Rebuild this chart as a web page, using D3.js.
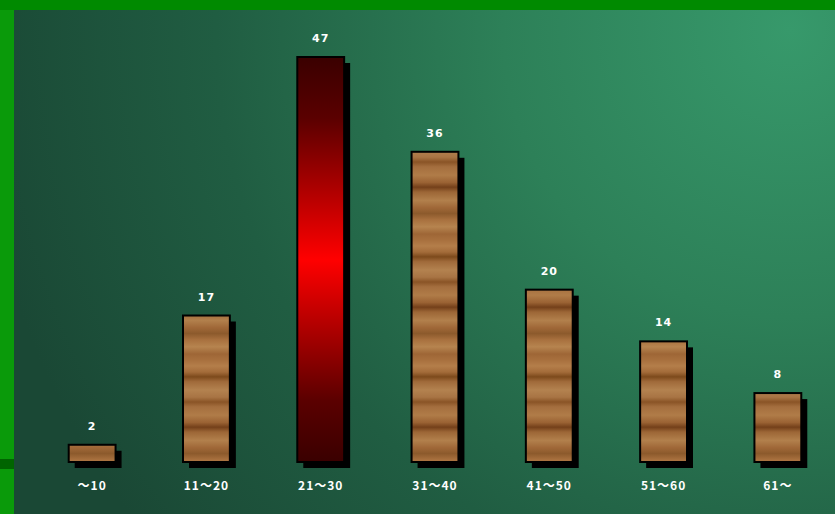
<!DOCTYPE html>
<html>
<head>
<meta charset="utf-8">
<script src="https://cdn.jsdelivr.net/npm/d3@7"></script>
<style>
  body { margin: 0; background: #0a8f0a; }
  svg { display: block; }
</style>
</head>
<body>
<script>
// chart data
var categories = ["～10", "11～20", "21～30", "31～40", "41～50", "51～60", "61～"];
var values = [2, 17, 47, 36, 20, 14, 8];
var highlight = "21～30";

var width = 835, height = 514;
var plotLeft = 14, plotTop = 10;
var baseline = 462;

var svg = d3.select("body").append("svg")
    .attr("width", width)
    .attr("height", height);

var defs = svg.append("defs");

// background: radial green, bright at top right
var bg = defs.append("radialGradient")
    .attr("id", "bg")
    .attr("gradientUnits", "userSpaceOnUse")
    .attr("cx", 790).attr("cy", 30).attr("r", 820);
bg.append("stop").attr("offset", "0%").attr("stop-color", "#37996b");
bg.append("stop").attr("offset", "35%").attr("stop-color", "#2d8058");
bg.append("stop").attr("offset", "70%").attr("stop-color", "#205d42");
bg.append("stop").attr("offset", "100%").attr("stop-color", "#1a4835");

// red bar gradient
var red = defs.append("linearGradient")
    .attr("id", "redbar")
    .attr("x1", 0).attr("y1", 0).attr("x2", 0).attr("y2", 1);
red.append("stop").attr("offset", "0%").attr("stop-color", "#3a0000");
red.append("stop").attr("offset", "15%").attr("stop-color", "#5a0000");
red.append("stop").attr("offset", "50%").attr("stop-color", "#ff0000");
red.append("stop").attr("offset", "85%").attr("stop-color", "#5a0000");
red.append("stop").attr("offset", "100%").attr("stop-color", "#3a0000");

// wood grain (hand-set stripes)
var woodStops = [
  [0, "#a8703e"], [0.05, "#b47e4a"], [0.10, "#a46c3a"], [0.14, "#7d4a1c"],
  [0.18, "#a06a3a"], [0.25, "#b3824f"], [0.31, "#a87444"], [0.35, "#8a5426"],
  [0.39, "#a46e3e"], [0.46, "#b07c48"], [0.52, "#9b6334"], [0.56, "#74401a"],
  [0.60, "#9c6636"], [0.67, "#b2804c"], [0.73, "#a06838"], [0.78, "#8c5a2c"],
  [0.83, "#a8703e"], [0.89, "#b6844f"], [0.95, "#9e6636"], [1, "#a8703e"]
];
var woodGrad = defs.append("linearGradient")
    .attr("id", "woodgrad")
    .attr("x1", 0).attr("y1", 0).attr("x2", 0).attr("y2", 1);
woodStops.forEach(function(s) {
  woodGrad.append("stop").attr("offset", s[0]).attr("stop-color", s[1]);
});
var wood = defs.append("pattern")
    .attr("id", "wood")
    .attr("patternUnits", "userSpaceOnUse")
    .attr("width", 60).attr("height", 120);
wood.append("rect")
    .attr("width", 60).attr("height", 120)
    .attr("fill", "url(#woodgrad)");

// frame
svg.append("rect").attr("width", width).attr("height", height).attr("fill", "#0a9a0a");
svg.append("rect").attr("x", 0).attr("y", 0).attr("width", width).attr("height", plotTop).attr("fill", "#008a00");
svg.append("rect").attr("x", 0).attr("y", 459).attr("width", plotLeft).attr("height", 10).attr("fill", "#006400");
svg.append("rect")
    .attr("x", plotLeft).attr("y", plotTop)
    .attr("width", width - plotLeft).attr("height", height - plotTop)
    .attr("fill", "url(#bg)");

// scales
var x = d3.scaleBand()
    .domain(categories)
    .range([35, 835])
    .paddingInner(0.59)
    .paddingOuter(0.295);

var y = d3.scaleLinear()
    .domain([0, 47])
    .range([baseline, 57]);

var data = categories.map(function(c, i) { return { cat: c, val: values[i] }; });

var bars = svg.selectAll("g.bar")
    .data(data)
    .enter()
    .append("g")
    .attr("class", "bar");

// drop shadow
bars.append("rect")
    .attr("x", function(d) { return x(d.cat) + 6; })
    .attr("y", function(d) { return y(d.val) + 6; })
    .attr("width", x.bandwidth())
    .attr("height", function(d) { return baseline - y(d.val); })
    .attr("fill", "#000");

bars.append("rect")
    .attr("x", function(d) { return x(d.cat); })
    .attr("y", function(d) { return y(d.val); })
    .attr("width", x.bandwidth())
    .attr("height", function(d) { return baseline - y(d.val); })
    .attr("fill", function(d) { return d.cat == highlight ? "url(#redbar)" : "url(#wood)"; })
    .attr("stroke", "#000")
    .attr("stroke-width", 2);

// value labels
bars.append("text")
    .attr("x", function(d) { return x(d.cat) + x.bandwidth() / 2; })
    .attr("y", function(d) { return y(d.val) - 15; })
    .attr("text-anchor", "middle")
    .attr("fill", "#fff")
    .style("font-family", "'DejaVu Sans', sans-serif")
    .style("font-weight", "bold")
    .style("font-size", "11px")
    .style("letter-spacing", "1px")
    .text(function(d) { return d.val; });

// category labels
bars.append("text")
    .attr("x", function(d) { return x(d.cat) + x.bandwidth() / 2; })
    .attr("y", 490)
    .attr("text-anchor", "middle")
    .attr("fill", "#fff")
    .style("font-family", "'Noto Sans CJK JP', 'DejaVu Sans', sans-serif")
    .style("font-weight", "bold")
    .style("font-size", "12px")
    .style("letter-spacing", "1px")
    .text(function(d) { return d.cat; });
</script>
</body>
</html>
